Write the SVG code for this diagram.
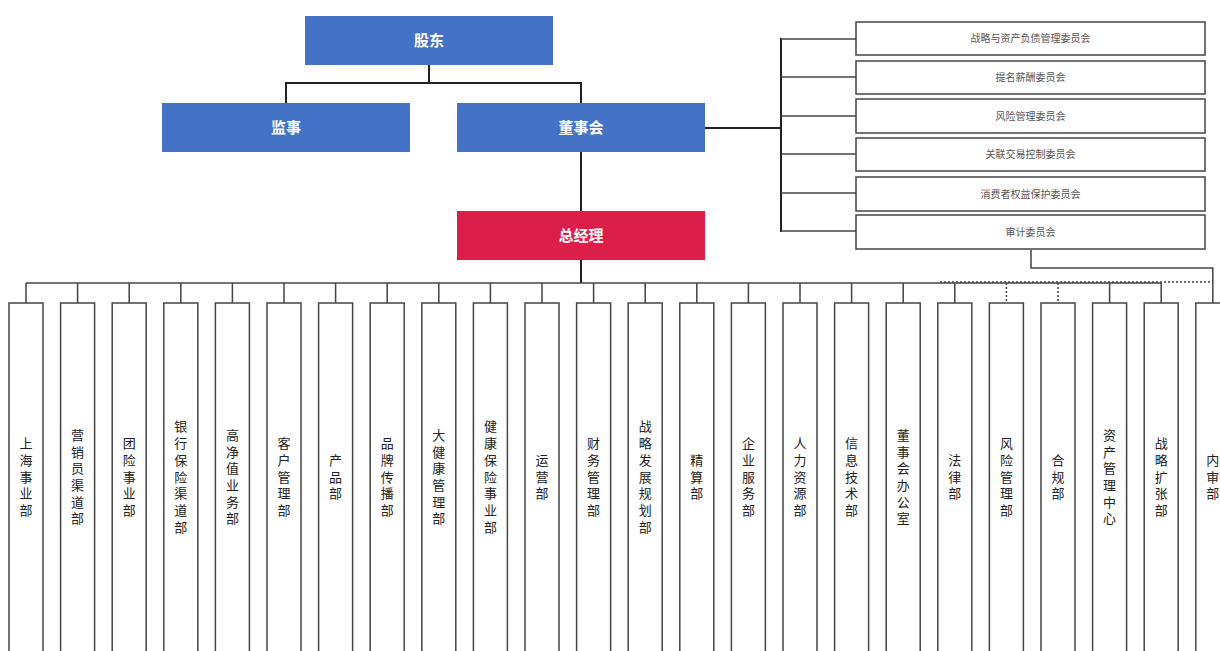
<svg xmlns="http://www.w3.org/2000/svg" width="1220" height="651" viewBox="0 0 1220 651">
<style>
.top{stroke:none}
.blue{fill:#4472C4}
.red{fill:#DC1E4A}
.tt{font-family:"Noto Sans CJK SC","Liberation Sans",sans-serif;font-size:15px;font-weight:bold;fill:#fff;text-anchor:middle}
.cm{fill:#fff;stroke:#444;stroke-width:1.5}
.ct{font-family:"Noto Sans CJK SC","Liberation Sans",sans-serif;font-size:10px;fill:#555;text-anchor:middle}
.dp{fill:#fff;stroke:#444;stroke-width:1.5}
.dt{font-family:"Noto Sans CJK SC","Liberation Sans",sans-serif;font-size:13px;fill:#222;text-anchor:middle}
.ln{fill:none;stroke:#222;stroke-width:2}
.ls{fill:none;stroke:#444;stroke-width:1.5}
.dot{fill:none;stroke:#444;stroke-width:1.5;stroke-dasharray:2 2}
</style>
<rect width="1220" height="651" fill="#fff"/>
<g id="connectors">
<path class="ln" d="M429 65V83M286 83H581M286 82V103M581 82V103"/>
<path class="ln" d="M581 152V211"/>
<path class="ln" d="M581 260V283"/>
<path class="ln" d="M705 128H781M781 38V232"/>
<path class="ls" d="M781 39H856M781 77H856M781 116H856M781 154H856M781 193H856M781 231H856"/>
<path class="ls" d="M26 283H1161.2"/>
<path class="ls" d="M26 283V303M77.6 283V303M129.2 283V303M180.8 283V303M232.4 283V303M284 283V303M335.6 283V303M387.2 283V303M438.8 283V303M490.4 283V303M542 283V303M593.6 283V303M645.2 283V303M696.8 283V303M748.4 283V303M800 283V303M851.6 283V303M903.2 283V303M954.8 283V303M1109.6 283V303M1161.2 283V303"/>
<path class="dot" d="M940 282H1212.8M1006.4 283V303M1058 283V303"/>
<path class="ls" d="M1031 250V268H1212.8V303"/>
</g>
<g id="n-gudong"><rect class="top blue" x="305" y="16" width="248" height="49"/><text class="tt" x="429" y="46">股东</text></g>
<g id="n-jianshi"><rect class="top blue" x="162" y="103" width="248" height="49"/><text class="tt" x="286" y="133">监事</text></g>
<g id="n-dongshihui"><rect class="top blue" x="457" y="103" width="248" height="49"/><text class="tt" x="581" y="133">董事会</text></g>
<g id="n-zongjingli"><rect class="top red" x="457" y="211" width="248" height="49"/><text class="tt" x="581" y="241">总经理</text></g>
<g id="c1"><rect class="cm" x="856" y="22" width="349" height="33"/><text class="ct" x="1030.5" y="42">战略与资产负债管理委员会</text></g>
<g id="c2"><rect class="cm" x="856" y="61" width="349" height="33"/><text class="ct" x="1030.5" y="81">提名薪酬委员会</text></g>
<g id="c3"><rect class="cm" x="856" y="99" width="349" height="34"/><text class="ct" x="1030.5" y="119.5">风险管理委员会</text></g>
<g id="c4"><rect class="cm" x="856" y="138" width="349" height="33"/><text class="ct" x="1030.5" y="158">关联交易控制委员会</text></g>
<g id="c5"><rect class="cm" x="856" y="177" width="349" height="34"/><text class="ct" x="1030.5" y="197.5">消费者权益保护委员会</text></g>
<g id="c6"><rect class="cm" x="856" y="215" width="349" height="34"/><text class="ct" x="1030.5" y="235.5">审计委员会</text></g>
<g id="d0"><rect class="dp" x="9" y="303" width="34" height="360"/><text class="dt"><tspan x="26" y="448.1">上</tspan><tspan x="26" y="464.8">海</tspan><tspan x="26" y="481.5">事</tspan><tspan x="26" y="498.2">业</tspan><tspan x="26" y="514.9">部</tspan></text></g>
<g id="d1"><rect class="dp" x="60.6" y="303" width="34" height="360"/><text class="dt"><tspan x="77.6" y="439.8">营</tspan><tspan x="77.6" y="456.5">销</tspan><tspan x="77.6" y="473.2">员</tspan><tspan x="77.6" y="489.9">渠</tspan><tspan x="77.6" y="506.6">道</tspan><tspan x="77.6" y="523.3">部</tspan></text></g>
<g id="d2"><rect class="dp" x="112.2" y="303" width="34" height="360"/><text class="dt"><tspan x="129.2" y="448.1">团</tspan><tspan x="129.2" y="464.8">险</tspan><tspan x="129.2" y="481.5">事</tspan><tspan x="129.2" y="498.2">业</tspan><tspan x="129.2" y="514.9">部</tspan></text></g>
<g id="d3"><rect class="dp" x="163.8" y="303" width="34" height="360"/><text class="dt"><tspan x="180.8" y="431.4">银</tspan><tspan x="180.8" y="448.1">行</tspan><tspan x="180.8" y="464.8">保</tspan><tspan x="180.8" y="481.5">险</tspan><tspan x="180.8" y="498.2">渠</tspan><tspan x="180.8" y="514.9">道</tspan><tspan x="180.8" y="531.6">部</tspan></text></g>
<g id="d4"><rect class="dp" x="215.4" y="303" width="34" height="360"/><text class="dt"><tspan x="232.4" y="439.8">高</tspan><tspan x="232.4" y="456.5">净</tspan><tspan x="232.4" y="473.2">值</tspan><tspan x="232.4" y="489.9">业</tspan><tspan x="232.4" y="506.6">务</tspan><tspan x="232.4" y="523.3">部</tspan></text></g>
<g id="d5"><rect class="dp" x="267" y="303" width="34" height="360"/><text class="dt"><tspan x="284" y="448.1">客</tspan><tspan x="284" y="464.8">户</tspan><tspan x="284" y="481.5">管</tspan><tspan x="284" y="498.2">理</tspan><tspan x="284" y="514.9">部</tspan></text></g>
<g id="d6"><rect class="dp" x="318.6" y="303" width="34" height="360"/><text class="dt"><tspan x="335.6" y="464.8">产</tspan><tspan x="335.6" y="481.5">品</tspan><tspan x="335.6" y="498.2">部</tspan></text></g>
<g id="d7"><rect class="dp" x="370.2" y="303" width="34" height="360"/><text class="dt"><tspan x="387.2" y="448.1">品</tspan><tspan x="387.2" y="464.8">牌</tspan><tspan x="387.2" y="481.5">传</tspan><tspan x="387.2" y="498.2">播</tspan><tspan x="387.2" y="514.9">部</tspan></text></g>
<g id="d8"><rect class="dp" x="421.8" y="303" width="34" height="360"/><text class="dt"><tspan x="438.8" y="439.8">大</tspan><tspan x="438.8" y="456.5">健</tspan><tspan x="438.8" y="473.2">康</tspan><tspan x="438.8" y="489.9">管</tspan><tspan x="438.8" y="506.6">理</tspan><tspan x="438.8" y="523.3">部</tspan></text></g>
<g id="d9"><rect class="dp" x="473.4" y="303" width="34" height="360"/><text class="dt"><tspan x="490.4" y="431.4">健</tspan><tspan x="490.4" y="448.1">康</tspan><tspan x="490.4" y="464.8">保</tspan><tspan x="490.4" y="481.5">险</tspan><tspan x="490.4" y="498.2">事</tspan><tspan x="490.4" y="514.9">业</tspan><tspan x="490.4" y="531.6">部</tspan></text></g>
<g id="d10"><rect class="dp" x="525" y="303" width="34" height="360"/><text class="dt"><tspan x="542" y="464.8">运</tspan><tspan x="542" y="481.5">营</tspan><tspan x="542" y="498.2">部</tspan></text></g>
<g id="d11"><rect class="dp" x="576.6" y="303" width="34" height="360"/><text class="dt"><tspan x="593.6" y="448.1">财</tspan><tspan x="593.6" y="464.8">务</tspan><tspan x="593.6" y="481.5">管</tspan><tspan x="593.6" y="498.2">理</tspan><tspan x="593.6" y="514.9">部</tspan></text></g>
<g id="d12"><rect class="dp" x="628.2" y="303" width="34" height="360"/><text class="dt"><tspan x="645.2" y="431.4">战</tspan><tspan x="645.2" y="448.1">略</tspan><tspan x="645.2" y="464.8">发</tspan><tspan x="645.2" y="481.5">展</tspan><tspan x="645.2" y="498.2">规</tspan><tspan x="645.2" y="514.9">划</tspan><tspan x="645.2" y="531.6">部</tspan></text></g>
<g id="d13"><rect class="dp" x="679.8" y="303" width="34" height="360"/><text class="dt"><tspan x="696.8" y="464.8">精</tspan><tspan x="696.8" y="481.5">算</tspan><tspan x="696.8" y="498.2">部</tspan></text></g>
<g id="d14"><rect class="dp" x="731.4" y="303" width="34" height="360"/><text class="dt"><tspan x="748.4" y="448.1">企</tspan><tspan x="748.4" y="464.8">业</tspan><tspan x="748.4" y="481.5">服</tspan><tspan x="748.4" y="498.2">务</tspan><tspan x="748.4" y="514.9">部</tspan></text></g>
<g id="d15"><rect class="dp" x="783" y="303" width="34" height="360"/><text class="dt"><tspan x="800" y="448.1">人</tspan><tspan x="800" y="464.8">力</tspan><tspan x="800" y="481.5">资</tspan><tspan x="800" y="498.2">源</tspan><tspan x="800" y="514.9">部</tspan></text></g>
<g id="d16"><rect class="dp" x="834.6" y="303" width="34" height="360"/><text class="dt"><tspan x="851.6" y="448.1">信</tspan><tspan x="851.6" y="464.8">息</tspan><tspan x="851.6" y="481.5">技</tspan><tspan x="851.6" y="498.2">术</tspan><tspan x="851.6" y="514.9">部</tspan></text></g>
<g id="d17"><rect class="dp" x="886.2" y="303" width="34" height="360"/><text class="dt"><tspan x="903.2" y="439.8">董</tspan><tspan x="903.2" y="456.5">事</tspan><tspan x="903.2" y="473.2">会</tspan><tspan x="903.2" y="489.9">办</tspan><tspan x="903.2" y="506.6">公</tspan><tspan x="903.2" y="523.3">室</tspan></text></g>
<g id="d18"><rect class="dp" x="937.8" y="303" width="34" height="360"/><text class="dt"><tspan x="954.8" y="464.8">法</tspan><tspan x="954.8" y="481.5">律</tspan><tspan x="954.8" y="498.2">部</tspan></text></g>
<g id="d19"><rect class="dp" x="989.4" y="303" width="34" height="360"/><text class="dt"><tspan x="1006.4" y="448.1">风</tspan><tspan x="1006.4" y="464.8">险</tspan><tspan x="1006.4" y="481.5">管</tspan><tspan x="1006.4" y="498.2">理</tspan><tspan x="1006.4" y="514.9">部</tspan></text></g>
<g id="d20"><rect class="dp" x="1041" y="303" width="34" height="360"/><text class="dt"><tspan x="1058" y="464.8">合</tspan><tspan x="1058" y="481.5">规</tspan><tspan x="1058" y="498.2">部</tspan></text></g>
<g id="d21"><rect class="dp" x="1092.6" y="303" width="34" height="360"/><text class="dt"><tspan x="1109.6" y="439.8">资</tspan><tspan x="1109.6" y="456.5">产</tspan><tspan x="1109.6" y="473.2">管</tspan><tspan x="1109.6" y="489.9">理</tspan><tspan x="1109.6" y="506.6">中</tspan><tspan x="1109.6" y="523.3">心</tspan></text></g>
<g id="d22"><rect class="dp" x="1144.2" y="303" width="34" height="360"/><text class="dt"><tspan x="1161.2" y="448.1">战</tspan><tspan x="1161.2" y="464.8">略</tspan><tspan x="1161.2" y="481.5">扩</tspan><tspan x="1161.2" y="498.2">张</tspan><tspan x="1161.2" y="514.9">部</tspan></text></g>
<g id="d23"><rect class="dp" x="1195.8" y="303" width="34" height="360"/><text class="dt"><tspan x="1212.8" y="464.8">内</tspan><tspan x="1212.8" y="481.5">审</tspan><tspan x="1212.8" y="498.2">部</tspan></text></g>
</svg>
